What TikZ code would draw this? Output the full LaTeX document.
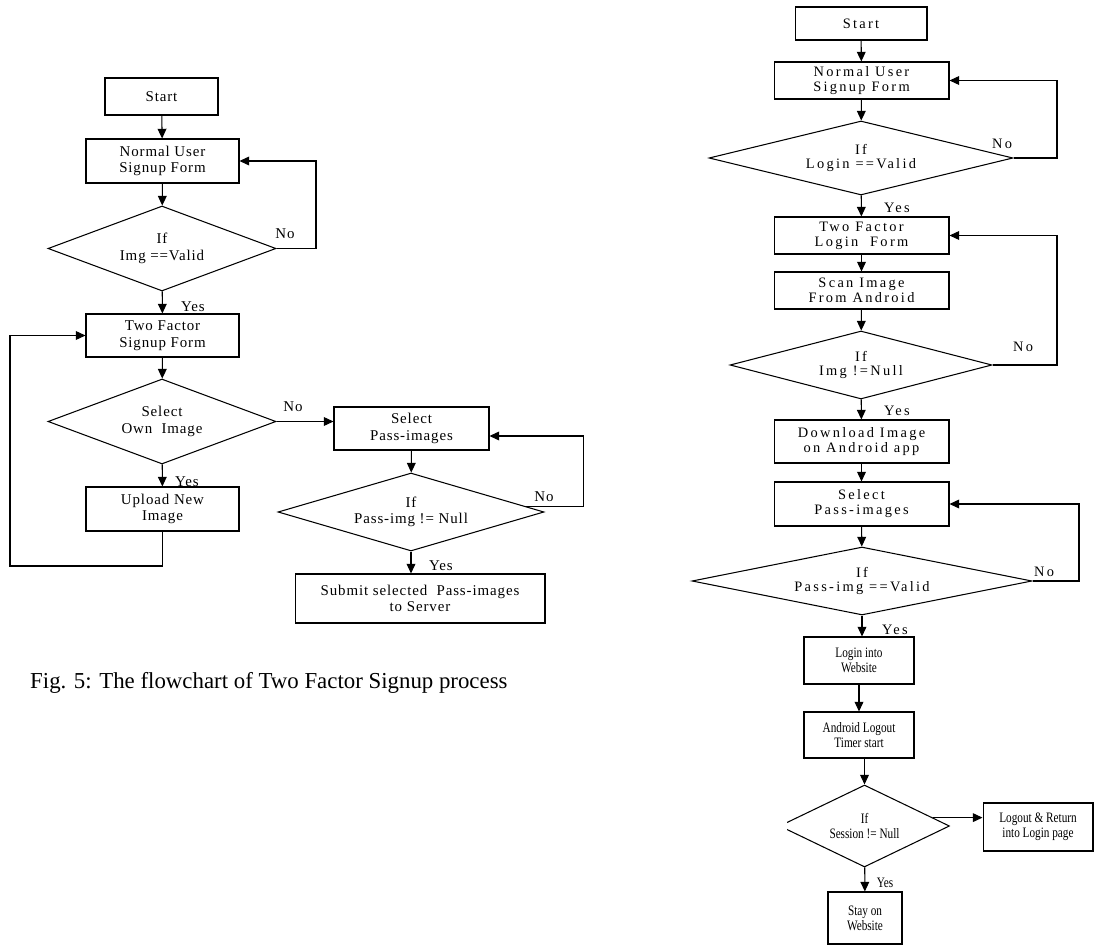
\documentclass[tikz,border=0pt]{standalone}
\usepackage{fontspec}
\setmainfont{Liberation Serif}
\newfontfamily\leftfont[LetterSpace=6]{Liberation Serif}
\newfontfamily\rightfont[LetterSpace=16]{Liberation Serif}
\newfontfamily\narrowfont[FakeStretch=0.78]{Liberation Serif}
\usetikzlibrary{arrows.meta,shapes.geometric,positioning}

\tikzset{
  box/.style={draw, line width=0.6pt, rectangle, align=center, inner sep=1pt},
  dec/.style={draw, line width=0.6pt, diamond, align=center, inner sep=0pt},
  arr/.style={-{Triangle[length=5.5pt,width=5pt]}, line width=0.6pt},
  lt/.style={font=\leftfont\fontsize{8.5}{9.5}\selectfont},
  rt/.style={font=\rightfont\fontsize{8.2}{8.5}\selectfont},
  nt/.style={font=\narrowfont\fontsize{8.2}{8.6}\selectfont},
}

\begin{document}
\begin{tikzpicture}[x=0.02cm, y=-0.02cm]
    \useasboundingbox (0,0) rectangle (1094,945);

    % Two factor signup (left)
    \node[box, lt, minimum width=2.26cm, minimum height=0.74cm] (start1) at (161.5,96.5) {Start};
    \node[box, lt, minimum width=3.06cm, minimum height=0.88cm] (norm1) at (162.5,161) {Normal User\\Signup Form};
    \node[dec, lt, shape aspect=2.7, minimum width=4.56cm, minimum height=1.70cm] (valid1) at (162,248.5) {If\\Img ==Valid};
    \node[box, lt, minimum width=3.06cm, minimum height=0.86cm] (twof1) at (162.5,335.5) {Two Factor\\Signup Form};
    \node[dec, lt, shape aspect=2.7, minimum width=4.56cm, minimum height=1.70cm] (own1) at (162,421.5) {Select\\Own\ \ Image};
    \node[box, lt, minimum width=3.06cm, minimum height=0.88cm] (upload1) at (162.5,509) {Upload New\\Image};
    \node[box, lt, minimum width=3.10cm, minimum height=0.86cm] (pass1) at (411.5,428.5) {Select\\Pass-images};
    \node[dec, lt, shape aspect=3.4, minimum width=5.32cm, minimum height=1.56cm] (null1) at (411,512) {If\\Pass-img != Null};
    \node[box, lt, minimum width=5.00cm, minimum height=0.98cm] (submit1) at (420,598.5) {Submit selected\ \ Pass-images\\to Server};

    \draw[arr] (start1) -- (norm1);
    \draw[arr] (norm1) -- (valid1);
    \draw[arr] (valid1) -- (twof1);
    \draw[arr] (twof1) -- (own1);
    \draw[arr] (own1) -- (upload1);
    \draw[arr] (own1.east) -- (own1.east -| pass1.west);
    \draw[arr] (pass1) -- (null1);
    \draw[arr] (null1.south) -- (null1.south |- submit1.north);
    \draw[arr] (valid1.east) -- (316,248.5) |- (norm1.east);
    \draw[arr] (upload1.south) |- (10,566) |- (twof1.west);
    \draw[arr] (null1.3) -- ++(59,0) |- ([yshift=-0.15cm]pass1.east);

    \node[lt] (no1) at (285,234) {No};
    \node[lt] (yes1) at (193,307) {Yes};
    \node[lt] (no2) at (293,407) {No};
    \node[lt] (yes2) at (187,482) {Yes};
    \node[lt] (yes3) at (441,566) {Yes};
    \node[lt] (no3) at (544,497) {No};

    \node[anchor=west, font=\fontsize{13}{15}\selectfont] (cap1) at (24,683) {Fig. 5: The flowchart of Two Factor Signup process};

    % Two factor login (right)
    \node[box, rt, minimum width=2.64cm, minimum height=0.66cm] (start2) at (861,23.5) {Start};
    \node[box, rt, minimum width=3.50cm, minimum height=0.74cm] (norm2) at (861.5,80.5) {Normal User\\Signup Form};
    \node[dec, rt, shape aspect=4.1, minimum width=6.08cm, minimum height=1.48cm] (login2) at (861,158) {If\\Login ==Valid};
    \node[box, rt, minimum width=3.50cm, minimum height=0.74cm] (twof2) at (861.5,235.5) {Two Factor\\Login\ \ Form};
    \node[box, rt, minimum width=3.50cm, minimum height=0.74cm] (scan2) at (861.5,290.5) {Scan Image\\From Android};
    \node[dec, rt, shape aspect=3.85, minimum width=5.24cm, minimum height=1.36cm] (null2) at (861,365) {If\\Img !=Null};
    \node[box, rt, minimum width=3.50cm, minimum height=0.86cm] (down2) at (861.5,441.5) {Download Image\\on Android app};
    \node[box, rt, minimum width=3.50cm, minimum height=0.88cm] (pass2) at (861.5,504) {Select\\Pass-images};
    \node[dec, rt, shape aspect=5, minimum width=6.80cm, minimum height=1.36cm] (valid2) at (862,581) {If\\Pass-img ==Valid};
    \node[box, nt, minimum width=2.20cm, minimum height=0.94cm] (web2) at (859,660.5) {Login into\\Website};
    \node[box, nt, minimum width=2.20cm, minimum height=0.92cm] (timer2) at (859,735) {Android Logout\\Timer start};
    \begin{scope}
      \clip (787,760) rectangle (1000,900);
      \node[dec, nt, shape aspect=2.07, minimum width=3.40cm, minimum height=1.64cm] (sess2) at (864.5,826) {If\\Session != Null};
    \end{scope}
    \node[box, nt, minimum width=2.20cm, minimum height=0.96cm] (logout2) at (1038,827) {Logout \& Return\\into Login page};
    \node[box, nt, minimum width=1.48cm, minimum height=1.04cm] (stay2) at (865,918) {Stay on\\Website};

    \draw[arr] (start2) -- (norm2);
    \draw[arr] (norm2) -- (login2);
    \draw[arr] (login2) -- (twof2);
    \draw[arr] (twof2) -- (scan2);
    \draw[arr] (scan2) -- (null2);
    \draw[arr] (null2) -- (down2);
    \draw[arr] (down2) -- (pass2);
    \draw[arr] (pass2) -- (valid2);
    \draw[arr] (valid2.south) -- (valid2.south |- web2.north);
    \draw[arr] (web2) -- (timer2);
    \draw[arr] (sess2.north |- timer2.south) -- (sess2.north);
    \draw[arr] (sess2) -- (stay2);
    \draw[arr] (sess2.7) -- (sess2.7 -| logout2.west);
    \draw[arr] (login2.east) -- (1057,158) |- (norm2.east);
    \draw[arr] (null2.east) -- (1057,365) |- (twof2.east);
    \draw[arr] (valid2.east) -- (1079,581) |- (pass2.east);

    \node[rt] (no4) at (1002,144) {No};
    \node[rt] (yes4) at (897,208) {Yes};
    \node[rt] (no5) at (1023,347) {No};
    \node[rt] (yes5) at (897,411) {Yes};
    \node[rt] (no6) at (1044,572) {No};
    \node[rt] (yes6) at (895,630) {Yes};
    \node[nt] (yes7) at (885,883) {Yes};
\end{tikzpicture}
\end{document}
